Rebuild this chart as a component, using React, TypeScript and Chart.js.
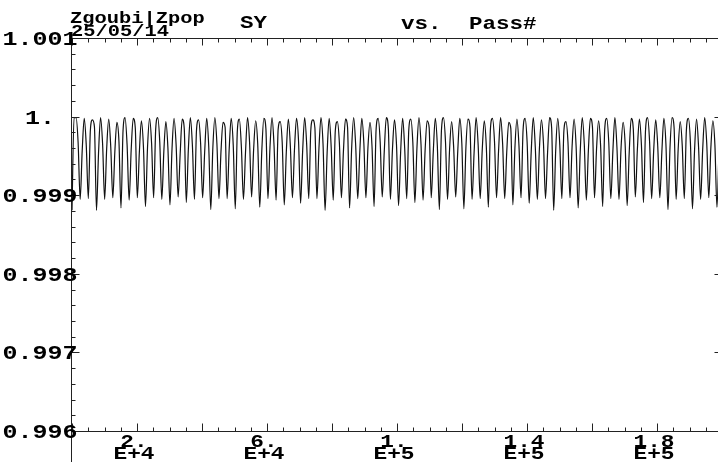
import React, { useEffect, useRef } from "react";
import { Chart, registerables } from "chart.js";

Chart.register(...registerables);

// ---- data (SY vs. pass number) ----
const PASS_STEP = 628; // passes between successive samples (quarter of an oscillation)
const X_MIN = 0;
const X_MAX = 200000;
const Y_MIN = 0.996;
const Y_MAX = 1.001;

const startValues = [0.99882, 1.0];

const peaks = [
  1.0, 0.99999, 0.99997, 1.0, 0.99998, 0.99994, 1.0, 0.99999, 0.99996, 0.99999, 1.0, 0.99995, 0.99999, 0.99998, 1.0, 0.99997,
  0.99999, 1.0, 0.99994, 0.99999, 0.99998, 1.0, 0.99996, 0.99999, 1.0, 0.99995, 0.99998, 0.99999, 1.0, 0.99997,
  1.0, 0.99999, 0.99995, 0.99998, 1.0, 0.99999, 0.99994, 0.99999, 1.0, 0.99997, 0.99999, 0.99998, 1.0, 0.99996,
  0.99999, 1.0, 0.99995, 0.99999, 0.99998, 1.0, 0.99996, 0.99999, 1.0, 0.99994, 0.99998, 0.99999, 1.0, 0.99997,
  1.0, 0.99999, 0.99995, 0.99998, 1.0, 0.99999, 0.99996, 0.99999, 1.0, 0.99994, 0.99999, 0.99998, 1.0, 0.99997,
  0.99999, 1.0, 0.99995, 0.99999, 0.99998, 1.0, 0.99996,
];

const fallMid = [
  0.99968, 0.99964, 0.99988, 0.99966, 0.99962, 0.9997, 0.99965, 0.99987, 0.99963, 0.99967, 0.99969, 0.99961, 0.99966, 0.99986, 0.99964, 0.99968,
  0.99963, 0.99967, 0.99988, 0.99965, 0.99962, 0.99969, 0.99966, 0.99986, 0.99964, 0.99968, 0.99963, 0.9997, 0.99965, 0.99987,
  0.99966, 0.99962, 0.99968, 0.99988, 0.99964, 0.99967, 0.99963, 0.99969, 0.99986, 0.99965, 0.99961, 0.99968, 0.99966, 0.99987,
  0.99964, 0.99969, 0.99962, 0.99967, 0.99988, 0.99965, 0.99963, 0.9997, 0.99966, 0.99986, 0.99964, 0.99968, 0.99962, 0.99967,
  0.99987, 0.99965, 0.99969, 0.99963, 0.99966, 0.99988, 0.99964, 0.99968, 0.99962, 0.99967, 0.99986, 0.99965, 0.99969, 0.99963,
  0.99966, 0.99987, 0.99964, 0.99968, 0.99962, 0.99967, 0.99965,
];

const troughs = [
  0.99896, 0.99897,
  0.99882, 0.99896, 0.99898, 0.99885, 0.99895, 0.99898, 0.99887, 0.99898, 0.99896, 0.99889, 0.99899, 0.99892, 0.99896, 0.99898,
  0.99883, 0.99897, 0.99897, 0.99884, 0.99896, 0.99899, 0.99886, 0.99897, 0.99895, 0.99889, 0.99898, 0.99891, 0.99897, 0.99897,
  0.99882, 0.99895, 0.99898, 0.99885, 0.99897, 0.99898, 0.99887, 0.99899, 0.99896, 0.99888, 0.99897, 0.99892, 0.99895, 0.99898,
  0.99883, 0.99896, 0.99899, 0.99884, 0.99896, 0.99897, 0.99886, 0.99898, 0.99897, 0.99889, 0.99898, 0.99891, 0.99896, 0.99897,
  0.99882, 0.99897, 0.99898, 0.99885, 0.99895, 0.99898, 0.99887, 0.99897, 0.99896, 0.99888, 0.99899, 0.99892, 0.99897, 0.99898,
  0.99883, 0.99896, 0.99897, 0.99884, 0.99896, 0.99898, 0.99886,
];

const riseMid = [
  0.99958, 0.99984, 0.99955, 0.99961, 0.99957, 0.99983, 0.99959, 0.99956, 0.99962, 0.99985, 0.99957, 0.9996, 0.99954, 0.99959, 0.99984, 0.99956,
  0.99961, 0.99957, 0.99959, 0.99983, 0.99955, 0.9996, 0.99958, 0.99962, 0.99985, 0.99956, 0.99959, 0.99957, 0.99984, 0.99961,
  0.99955, 0.99983, 0.99958, 0.9996, 0.99956, 0.99962, 0.99985, 0.99957, 0.99959, 0.99955, 0.99984, 0.99961, 0.99958, 0.99956,
  0.99983, 0.9996, 0.99957, 0.99962, 0.99955, 0.99959, 0.99985, 0.99958, 0.99956, 0.99961, 0.99984, 0.99957, 0.9996, 0.99955,
  0.99959, 0.99983, 0.99962, 0.99956, 0.99958, 0.9996, 0.99985, 0.99957, 0.99961, 0.99955, 0.99959, 0.99984, 0.99958, 0.99956,
  0.99962, 0.9996, 0.99983, 0.99957, 0.99959, 0.99961, 0.99958,
];

// ---- tick labels ----
const xLabelValues = [20000, 60000, 100000, 140000, 180000];
const xLabels = [["2.", "E+4"], ["6.", "E+4"], ["1.", "E+5"], ["1.4", "E+5"], ["1.8", "E+5"]];
const X_MAJOR_STEP = 20000;
const X_MINOR_STEP = 5000;

const yLabelValues = [0.996, 0.997, 0.998, 0.999, 1.0, 1.001];
const yLabels = ["0.996", "0.997", "0.998", "0.999", "1.", "1.001"];
const Y_MINOR_COUNT = 25; // minor divisions between Y_MIN and Y_MAX
const Y_MINOR_PER_MAJOR = 5;

const headerLeft = ["Zgoubi|Zpop", "25/05/14"];
const titleParts = ["SY", "vs.", "Pass#"];

const FONT = '"Liberation Mono", "DejaVu Sans Mono", monospace';

function buildPoints() {
  const pts: { x: number; y: number }[] = [];
  startValues.forEach((v, i) => pts.push({ x: i * PASS_STEP, y: v }));
  for (let k = 0; k < peaks.length; k++) {
    const base = 2 + 4 * k;
    pts.push({ x: base * PASS_STEP, y: peaks[k] });
    pts.push({ x: (base + 1) * PASS_STEP, y: fallMid[k] });
    pts.push({ x: (base + 2) * PASS_STEP, y: troughs[k] });
    pts.push({ x: (base + 3) * PASS_STEP, y: riseMid[k] });
  }
  return pts;
}

function stretchedText(
  ctx: CanvasRenderingContext2D,
  text: string,
  x: number,
  y: number,
  size: number,
  sx: number,
  align: CanvasTextAlign,
  baseline: CanvasTextBaseline
) {
  ctx.save();
  ctx.translate(x, y);
  ctx.scale(sx, 1);
  ctx.font = `bold ${size}px ${FONT}`;
  ctx.textAlign = align;
  ctx.textBaseline = baseline;
  ctx.fillStyle = "#000";
  ctx.fillText(text, 0, 0);
  ctx.restore();
}

const zgoubiFrame = {
  id: "zgoubiFrame",
  afterDraw(chart: any) {
    const ctx: CanvasRenderingContext2D = chart.ctx;
    const a = chart.chartArea;
    const xs = chart.scales.x;
    const ys = chart.scales.y;
    const canvasH = chart.height;
    ctx.save();
    ctx.strokeStyle = "#222";
    ctx.lineWidth = 1;
    const seg = (x1: number, y1: number, x2: number, y2: number) => {
      ctx.beginPath();
      ctx.moveTo(x1, y1);
      ctx.lineTo(x2, y2);
      ctx.stroke();
    };
    const L = Math.round(a.left) - 0.5;
    const T = Math.round(a.top) - 0.5;
    const B = Math.round(a.bottom) - 0.5;
    const R = Math.round(a.right) - 0.5;
    // frame
    seg(L, T, L, canvasH);
    seg(L, T, R + 1, T);
    seg(L, B, R + 1, B);

    // x ticks (top pointing down, bottom pointing up)
    const nx = Math.round((X_MAX - X_MIN) / X_MINOR_STEP);
    for (let i = 0; i <= nx; i++) {
      const v = X_MIN + i * X_MINOR_STEP;
      const px = Math.round(xs.getPixelForValue(v)) + 0.5;
      const major = v % X_MAJOR_STEP === 0;
      seg(px, T, px, T + (major ? 7 : 4));
      seg(px, B, px, B - (major ? 8 : 4));
    }
    // y ticks (left pointing right, right pointing left)
    for (let j = 0; j <= Y_MINOR_COUNT; j++) {
      const v = Y_MIN + (j * (Y_MAX - Y_MIN)) / Y_MINOR_COUNT;
      const py = Math.round(ys.getPixelForValue(v)) - 0.5;
      const major = j % Y_MINOR_PER_MAJOR === 0;
      seg(L, py, L + (major ? 8 : 4), py);
      seg(R + 1, py, R + 1 - (major ? 8 : 4), py);
    }
    ctx.restore();

    // y labels
    yLabelValues.forEach((v, i) => {
      const py = ys.getPixelForValue(v);
      stretchedText(ctx, yLabels[i], 40, py + 1, 20, 1.25, "center", "middle");
    });
    // x labels
    xLabelValues.forEach((v, i) => {
      const px = xs.getPixelForValue(v) - 3;
      stretchedText(ctx, xLabels[i][0], px, a.bottom + 15, 19, 1.2, "center", "alphabetic");
      stretchedText(ctx, xLabels[i][1], px, a.bottom + 27, 19, 1.2, "center", "alphabetic");
    });
    // header
    stretchedText(ctx, headerLeft[0], 70, 23, 17, 1.2, "left", "alphabetic");
    stretchedText(ctx, headerLeft[1], 71, 36, 17, 1.2, "left", "alphabetic");
    stretchedText(ctx, titleParts[0], 240, 28, 18, 1.25, "left", "alphabetic");
    stretchedText(ctx, titleParts[1], 401, 29, 18, 1.25, "left", "alphabetic");
    stretchedText(ctx, titleParts[2], 469, 29, 18, 1.25, "left", "alphabetic");
  },
};

export default function App() {
  const ref = useRef<HTMLCanvasElement | null>(null);
  useEffect(() => {
    if (!ref.current) return;
    const chart = new Chart(ref.current, {
      type: "scatter",
      data: {
        datasets: [
          {
            data: buildPoints(),
            showLine: true,
            borderColor: "#111",
            borderWidth: 1.2,
            pointRadius: 0,
            cubicInterpolationMode: "monotone",
            fill: false,
          },
        ],
      },
      options: {
        animation: false,
        responsive: false,
        devicePixelRatio: 1,
        layout: { padding: { left: 72, right: 0, top: 39, bottom: 30 } },
        plugins: { legend: { display: false }, tooltip: { enabled: false }, title: { display: false } },
        scales: {
          x: { type: "linear", min: X_MIN, max: X_MAX, display: false },
          y: { type: "linear", min: Y_MIN, max: Y_MAX, display: false },
        },
        events: [],
      },
      plugins: [zgoubiFrame],
    });
    return () => chart.destroy();
  }, []);
  return (
    <div
      style={{
        position: "fixed",
        left: 0,
        top: 0,
        width: 718,
        height: 462,
        overflow: "hidden",
        background: "#fff",
      }}
    >
      <canvas ref={ref} width={722} height={462} style={{ width: 722, height: 462, display: "block" }} />
    </div>
  );
}
